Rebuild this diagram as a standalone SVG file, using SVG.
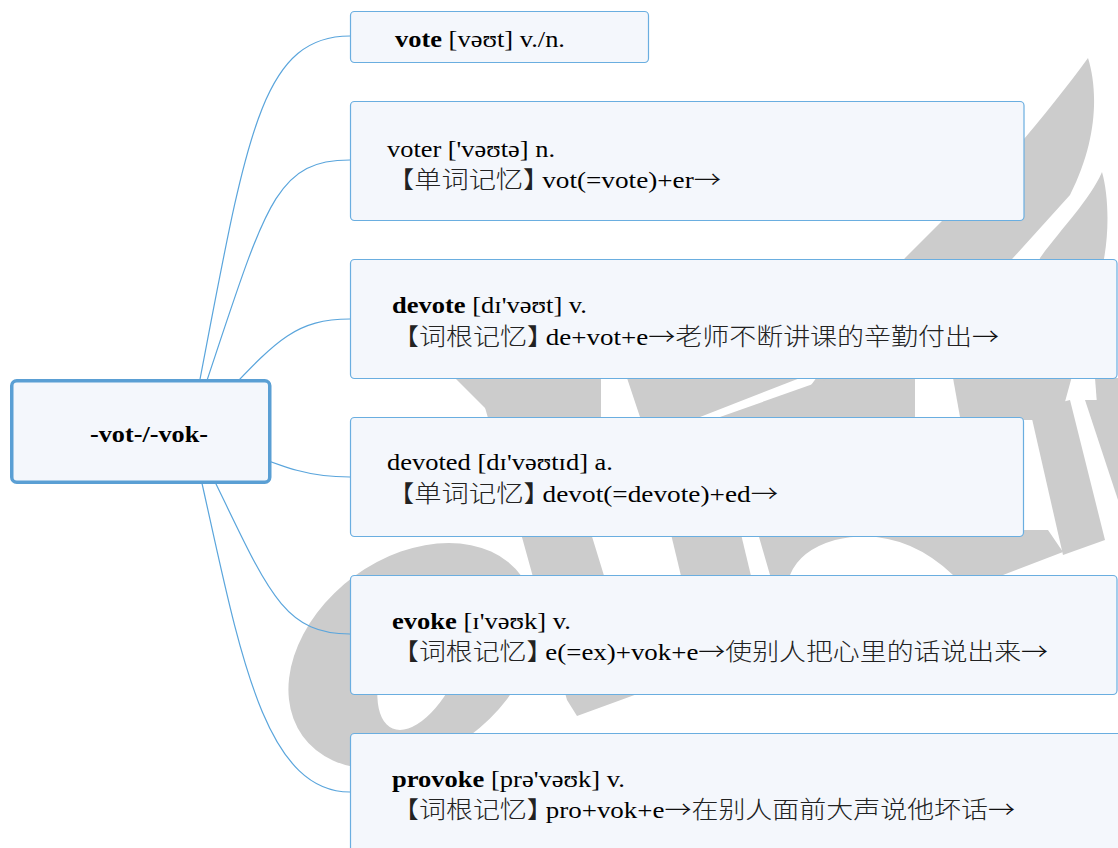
<svg xmlns="http://www.w3.org/2000/svg" width="1118" height="848" viewBox="0 0 1118 848">
<style>
.wm{fill:#cccccc;stroke:none}
.wh{fill:#ffffff;stroke:none}
.conn{fill:none;stroke:#5aa5dc;stroke-width:1.2}
.node rect{fill:#f4f7fc;stroke:#6aaee0;stroke-width:1.2}
.root rect{fill:#f4f7fc;stroke:#5a9fd4;stroke-width:3.5}
text{font-family:'Liberation Serif','Noto Sans CJK SC',serif;font-size:23.5px;fill:#000}
.b{font-weight:bold}
.c{font-family:'Noto Sans CJK SC',sans-serif;font-weight:300;fill:#222}
.a{font-family:'Noto Sans CJK SC',sans-serif;font-weight:300;fill:#111}
</style>
<g id="watermark">
<g transform="translate(412,656) skewX(-18)">
<path class="wm" fill-rule="evenodd" d="M-118,0 a118,113 0 1,0 236,0 a118,113 0 1,0 -236,0 Z M-28,0 a40,74 0 1,0 80,0 a40,74 0 1,0 -80,0 Z"/>
</g>
<path class="wm" d="M1088,58 C1098,90 1098,140 1070,195 L1013,258 L880,400 L800,400 L905,258 L943,220 C985,190 1050,110 1088,58 Z"/>
<path class="wm" d="M1102,172 C1110,200 1110,250 1097,285 L1060,420 L1000,420 L1040,258 C1060,230 1090,200 1102,172 Z"/>
<path class="wm" d="M567,700 L577,716 L640,693 L590,530 L555,390 L480,390 L520,530 Z"/>
<path class="wm" d="M455,378 L601,378 L601,417 L494,417 Z"/>
<path class="wm" d="M627,378 L800,378 L700,417 L640,417 Z"/>
<path class="wm" d="M830,378 L915,378 L915,417 L720,417 Z"/>
<path class="wm" d="M953,378 L1017,378 L1017,417 L960,417 Z"/>
<path class="wm" d="M1095,378 L1118,378 L1118,417 L1098,417 Z"/>
<path class="wm" d="M670,530 L740,530 L752,580 L682,580 Z"/>
<path class="wm" d="M757,530 L1048,530 L1063,552 L1003,575 L953,575 Q900,525 835,540 Q800,550 790,575 L770,575 Z"/>
<path class="wm" d="M1030,410 L1063,555 L1105,540 L1070,400 Z"/>
<path class="wm" d="M1085,400 L1118,400 L1118,500 Z"/>
</g>
<g id="connectors">
<path class="conn" d="M190,431 C245,150 255,36 350,36"/>
<path class="conn" d="M190,431 C265,210 270,160 350,160"/>
<path class="conn" d="M190,431 C270,350 285,319 350,319"/>
<path class="conn" d="M190,431 C280,465 300,477 350,477"/>
<path class="conn" d="M190,431 C265,580 275,634 350,634"/>
<path class="conn" d="M190,431 C235,620 255,792 350,792"/>
</g>
<g id="root" class="root">
<rect x="11.75" y="380.75" width="258" height="101.5" rx="5"/>
<text class="b" x="90" y="442" textLength="118" lengthAdjust="spacingAndGlyphs">-vot-/-vok-</text>
</g>
<g id="n-vote" class="node">
<rect x="350.5" y="11.5" width="298" height="51" rx="4"/>
<text x="395" y="47" textLength="170" lengthAdjust="spacingAndGlyphs"><tspan class="b">vote</tspan> [vəʊt] v./n.</text>
</g>
<g id="n-voter" class="node">
<rect x="350.5" y="101.5" width="673.5" height="119" rx="4"/>
<text x="387" y="157" textLength="168" lengthAdjust="spacingAndGlyphs">voter ['vəʊtə] n.</text>
<text x="387" y="188" textLength="334" lengthAdjust="spacingAndGlyphs"><tspan class="c">【单词记忆】</tspan><tspan dx="-7">vot(=vote)+er</tspan><tspan class="a">→</tspan></text>
</g>
<g id="n-devote" class="node">
<rect x="350.5" y="259.5" width="766.5" height="119" rx="4"/>
<text x="392" y="313" textLength="195" lengthAdjust="spacingAndGlyphs"><tspan class="b">devote</tspan> [dɪ'vəʊt] v.</text>
<text x="392" y="345" textLength="607" lengthAdjust="spacingAndGlyphs"><tspan class="c">【词根记忆】</tspan><tspan dx="-7">de+vot+e</tspan><tspan class="a">→</tspan><tspan class="c">老师不断讲课的辛勤付出</tspan><tspan class="a">→</tspan></text>
</g>
<g id="n-devoted" class="node">
<rect x="350.5" y="417.5" width="673" height="119" rx="4"/>
<text x="387" y="470" textLength="226" lengthAdjust="spacingAndGlyphs">devoted [dɪ'vəʊtɪd] a.</text>
<text x="387" y="502" textLength="391" lengthAdjust="spacingAndGlyphs"><tspan class="c">【单词记忆】</tspan><tspan dx="-7">devot(=devote)+ed</tspan><tspan class="a">→</tspan></text>
</g>
<g id="n-evoke" class="node">
<rect x="350.5" y="575.5" width="766.5" height="119" rx="4"/>
<text x="392" y="628.5" textLength="179" lengthAdjust="spacingAndGlyphs"><tspan class="b">evoke</tspan> [ɪ'vəʊk] v.</text>
<text x="392" y="660" textLength="656" lengthAdjust="spacingAndGlyphs"><tspan class="c">【词根记忆】</tspan><tspan dx="-7">e(=ex)+vok+e</tspan><tspan class="a">→</tspan><tspan class="c">使别人把心里的话说出来</tspan><tspan class="a">→</tspan></text>
</g>
<g id="n-provoke" class="node">
<rect x="350.5" y="733.5" width="800" height="119" rx="4"/>
<text x="392" y="787" textLength="233" lengthAdjust="spacingAndGlyphs"><tspan class="b">provoke</tspan> [prə'vəʊk] v.</text>
<text x="392" y="818" textLength="623" lengthAdjust="spacingAndGlyphs"><tspan class="c">【词根记忆】</tspan><tspan dx="-7">pro+vok+e</tspan><tspan class="a">→</tspan><tspan class="c">在别人面前大声说他坏话</tspan><tspan class="a">→</tspan></text>
</g>
</svg>
